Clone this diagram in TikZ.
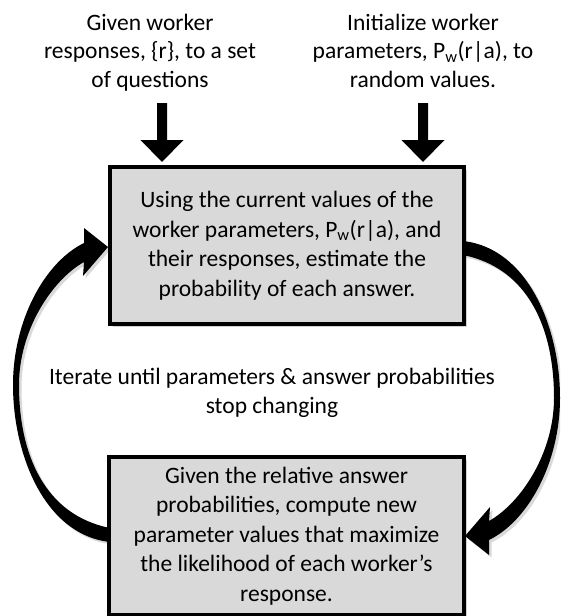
\documentclass[tikz,border=0pt]{standalone}
\usepackage{fontspec}
\setmainfont{Carlito}
\definecolor{boxgrey}{HTML}{D9D9D9}
\newcommand\fsbox{\fontsize{23.5}{29.5}\selectfont}
\newcommand\fslbl{\fontsize{23.5}{28.5}\selectfont}
\tikzset{
  box/.style={draw=black, line width=3.5pt, fill=boxgrey, align=center, font=\fsbox, inner sep=0pt,
    preaction={fill=black, opacity=0.18, transform canvas={xshift=2.5pt, yshift=-2.5pt}}},
  lbl/.style={align=center, font=\fslbl, inner sep=0pt},
  blk/.style={fill=black, draw=none},
  shd/.style={fill=black, opacity=0.15, draw=none},
}
\begin{document}
\begin{tikzpicture}[x=1pt, y=-1pt]
\useasboundingbox (0,0) rectangle (560,616);
\clip (0,0) rectangle (560,616);

% input labels (anchor base = baseline of the last line)
\node[lbl, anchor=base] (given) at (150,87) {Given worker\\responses, \{r\}, to a set\\of questions};
\node[lbl, anchor=base] (init) at (423,87) {Initialize worker\\parameters, P\textsubscript{w}(r|a), to\\random values.};

% curved loop arrows (filled tapered shapes), second one rotated 180 degrees
\foreach \r in {0,180} {
  \fill[shd, shift={(2.5,2.5)}, rotate around={\r:(286.5,391.5)}]
    (110,542) .. controls (45,535) and (13,455) .. (13,385)
    .. controls (13,320) and (45,262) .. (84,243) -- (84,228) -- (108,247) -- (83,276) -- (84,262)
    .. controls (52,280) and (19,330) .. (19,385)
    .. controls (19,455) and (45,515) .. (110,528) -- cycle;
  \fill[blk, rotate around={\r:(286.5,391.5)}]
    (110,542) .. controls (45,535) and (13,455) .. (13,385)
    .. controls (13,320) and (45,262) .. (84,243) -- (84,228) -- (108,247) -- (83,276) -- (84,262)
    .. controls (52,280) and (19,330) .. (19,385)
    .. controls (19,455) and (45,515) .. (110,528) -- cycle;
}

% boxes
\node[box, minimum width=354pt, minimum height=157pt] (top) at (287,245.5)
  {Using the current values of the\\worker parameters, P\textsubscript{w}(r|a), and\\their responses, estimate the\\probability of each answer.};
\node[box, minimum width=355pt, minimum height=158pt] (bot) at (286.5,536)
  {Given the relative answer\\probabilities, compute new\\parameter values that maximize\\the likelihood of each worker’s\\response.};

\node[lbl, anchor=base] (iter) at (272,413) {Iterate until parameters \& answer probabilities\\stop changing};

% down arrows into the top box
\foreach \xx in {162,423} {
  \fill[blk, shift={(\xx,0)}] (-5,103) -- (5,103) -- (5,140) -- (21.5,140) -- (0,162) -- (-21.5,140) -- (-5,140) -- cycle;
}
\end{tikzpicture}
\end{document}
